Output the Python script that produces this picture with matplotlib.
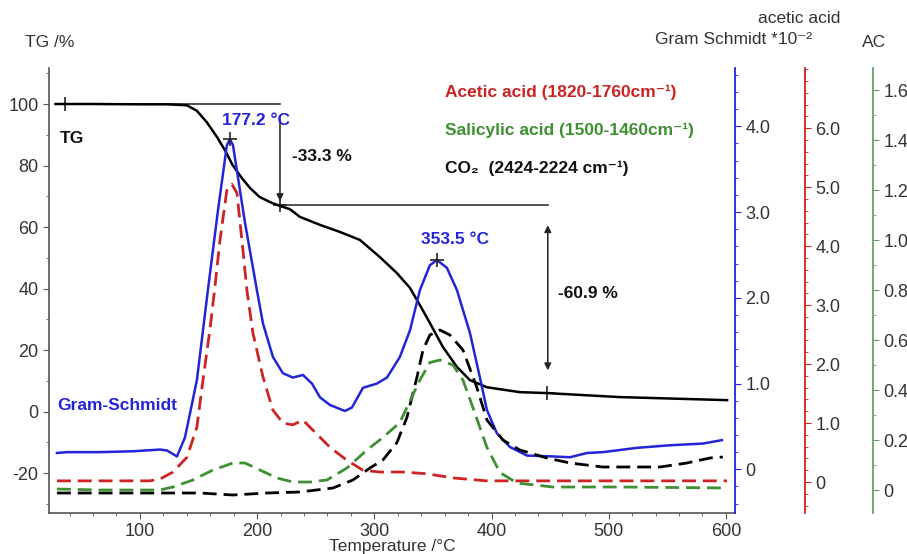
import matplotlib
matplotlib.use("Agg")
import matplotlib.pyplot as plt
from matplotlib.ticker import MultipleLocator, FuncFormatter

plt.rcParams["font.family"] = ["Liberation Sans", "DejaVu Sans"]
plt.rcParams["axes.unicode_minus"] = False

# ---- data ----
# TG mass curve (%)
tg_T = [28, 60, 100, 123, 140, 148.6, 157, 165.7, 172.5, 179, 187, 193.9, 202,
        211, 217.7, 228, 236.5, 253.6, 270.6, 287.7, 304.8, 319.3, 330.4, 338.9,
        347.4, 358.5, 370.5, 381.6, 396, 424, 447, 509, 601]
tg_val = [100, 100, 99.9, 99.9, 99.6, 97.8, 94.1, 89.3, 85.0, 80.2, 75.9, 72.7, 69.8,
          68.1, 67.1, 65.8, 63.3, 60.7, 58.4, 55.8, 50.2, 45.0, 40.2, 34.6,
          28.8, 21.0, 14.5, 10.2, 7.9, 6.3, 6.0, 4.7, 3.7]

# Gram-Schmidt (*10^-2)
gs_T = [29.2, 37.7, 65.9, 94.0, 117.1, 123.0, 131.6, 138.4, 142.7, 148.6, 153.8,
        158.0, 166.6, 174.2, 176.8, 179.4, 189.6, 199.8, 205.0, 213.5, 222.0,
        230.5, 239.1, 246.8, 253.6, 262.1, 274.9, 280.9, 290.3, 302.2, 310.8,
        321.8, 330.4, 338.9, 347.4, 353.4, 361.9, 370.5, 381.6, 390.1, 396.1,
        404.6, 415.7, 430.2, 452.4, 466.9, 481.4, 495.1, 524.1, 552.2, 580.4, 596.6]
gs_val = [0.19, 0.20, 0.20, 0.21, 0.23, 0.22, 0.15, 0.37, 0.65, 1.04, 1.62,
          2.09, 3.02, 3.78, 3.85, 3.78, 2.88, 2.09, 1.70, 1.31, 1.12,
          1.07, 1.10, 1.00, 0.84, 0.75, 0.68, 0.72, 0.95, 1.00, 1.07,
          1.31, 1.62, 2.09, 2.38, 2.44, 2.35, 2.09, 1.59, 1.07, 0.69,
          0.42, 0.26, 0.16, 0.15, 0.14, 0.19, 0.20, 0.25, 0.28, 0.30, 0.34]

# acetic acid (1820-1760 cm-1)
aa_T = [29.2, 65.9, 108.5, 117.1, 128.2, 140.1, 148.6, 153.8, 159.7, 164.0,
        168.3, 174.2, 178.5, 182.8, 187.9, 191.3, 196.4, 205.0, 213.5, 222.0,
        230.5, 239.1, 247.6, 262.1, 276.6, 290.3, 304.8, 324.4, 344.9, 367.1,
        396.1, 492.5, 600.9]
aa_val = [0.02, 0.02, 0.02, 0.05, 0.17, 0.42, 0.93, 1.73, 2.58, 3.31,
          4.10, 4.95, 5.05, 4.90, 3.93, 3.25, 2.53, 1.78, 1.22, 1.00,
          0.97, 1.05, 0.88, 0.59, 0.37, 0.20, 0.17, 0.17, 0.14, 0.07,
          0.02, 0.02, 0.02]

# salicylic acid (1500-1460 cm-1), AC
sa_T = [29.2, 65.9, 117.1, 128.2, 145.2, 162.3, 179.4, 189.6, 202.4, 216.9,
        230.5, 245.1, 259.6, 276.6, 293.7, 307.3, 321.8, 327.8, 338.9, 347.4,
        356.0, 367.1, 375.6, 384.1, 396.1, 407.2, 421.7, 452.4, 509.6, 600.9]
sa_val = [0.004, 0.0, 0.0, 0.012, 0.04, 0.08, 0.108, 0.108, 0.08, 0.048,
          0.032, 0.032, 0.04, 0.088, 0.16, 0.21, 0.27, 0.33, 0.44, 0.51,
          0.52, 0.50, 0.44, 0.33, 0.17, 0.07, 0.028, 0.012, 0.012, 0.008]

# CO2 (2424-2224 cm-1), AC
co2_T = [29.2, 94.0, 151.2, 179.4, 208.4, 236.5, 264.7, 281.7, 296.2, 307.3,
         319.3, 327.8, 336.3, 341.5, 347.4, 356.0, 364.5, 375.6, 387.5, 396.1,
         409.7, 424.2, 447.3, 466.9, 495.1, 524.1, 543.7, 566.7, 586.4, 597.4]
co2_val = [-0.012, -0.012, -0.012, -0.02, -0.012, -0.008, 0.008, 0.04, 0.088, 0.12,
           0.19, 0.29, 0.45, 0.56, 0.62, 0.64, 0.62, 0.56, 0.41, 0.28,
           0.20, 0.16, 0.128, 0.108, 0.092, 0.092, 0.092, 0.108, 0.128, 0.132]

tg_marks_T = [36, 219.5, 447]
tg_marks_val = [100, 67, 6]
peak_T = [177.2, 353.5]
peak_gs = [3.85, 2.44]

blue = "#2424d8"
red = "#cc2424"
green = "#3f8f33"
green_ax = "#6a9e6a"
tick_col = "#333333"

fig = plt.figure(figsize=(9.07, 5.54), dpi=100)
ax = fig.add_axes([0.054, 0.074, 0.7563, 0.8032])
ax_gs = ax.twinx()
ax_aa = ax.twinx()
ax_ac = ax.twinx()

# main TG axis
ax.set_xlim(22.4, 607.7)
ax.set_ylim(-33, 111.7)
for s in ["top", "right"]:
    ax.spines[s].set_visible(False)
for s in ["left", "bottom"]:
    ax.spines[s].set_color("#555555")
    ax.spines[s].set_linewidth(1.2)
ax.xaxis.set_major_locator(MultipleLocator(100))
ax.xaxis.set_minor_locator(MultipleLocator(20))
ax.yaxis.set_major_locator(MultipleLocator(20))
ax.yaxis.set_minor_locator(MultipleLocator(10))
ax.tick_params(which="both", direction="out", colors="#555555", labelcolor=tick_col,
               labelsize=13)
ax.tick_params(which="major", length=4)
ax.tick_params(which="minor", length=2.5)
ax.set_xticks([100, 200, 300, 400, 500, 600])
ax.set_xlabel("Temperature /°C", fontsize=12.5, color=tick_col, labelpad=-1)

ax.plot(tg_T, tg_val, color="black", lw=1.8, zorder=3)
ax.plot(tg_marks_T, tg_marks_val, ls="none", marker="+", ms=10, mew=1.2, color="#222222")
ax.plot([28, 219.5], [100, 100], color="#333333", lw=1.2)
ax.plot([219.5, 448], [67, 67], color="#333333", lw=1.2)
ax.annotate("", xy=(219.5, 67.5), xytext=(219.5, 96),
            arrowprops=dict(arrowstyle="-|>", color="#222222", lw=1.1, mutation_scale=10))
ax.annotate("", xy=(448, 12.5), xytext=(448, 61.5),
            arrowprops=dict(arrowstyle="<|-|>", color="#222222", lw=1.1, mutation_scale=10))

bold = dict(fontsize=12.5, fontweight="bold", va="center")
ax.text(31.7, 88.9, "TG", color="#111111", ha="left", **bold)
ax.text(199, 94.8, "177.2 °C", color=blue, ha="center", **bold)
ax.text(229.7, 82.8, "-33.3 %", color="#111111", ha="left", **bold)
ax.text(368.8, 55.8, "353.5 °C", color=blue, ha="center", **bold)
ax.text(456.7, 38.5, "-60.9 %", color="#111111", ha="left", **bold)
ax.text(29.2, 2.1, "Gram-Schmidt", color=blue, ha="left", **bold)
ax.text(360.2, 103.9, "Acetic acid (1820-1760cm⁻¹)", color=red, ha="left", **bold)
ax.text(360.2, 91.5, "Salicylic acid (1500-1460cm⁻¹)", color=green, ha="left", **bold)
ax.text(360.2, 79.2, "CO₂  (2424-2224 cm⁻¹)", color="#111111", ha="left", **bold)


def fmt(v, pos):
    return "0" if abs(v) < 1e-9 else f"{v:.1f}"


def setup_right(a, col, lo, hi, major, minor, pos):
    a.set_ylim(lo, hi)
    for s in ["top", "left", "bottom"]:
        a.spines[s].set_visible(False)
    a.spines["right"].set_position(("axes", pos))
    a.spines["right"].set_color(col)
    a.spines["right"].set_linewidth(1.3)
    a.yaxis.set_major_locator(MultipleLocator(major))
    a.yaxis.set_minor_locator(MultipleLocator(minor))
    a.yaxis.set_major_formatter(FuncFormatter(fmt))
    a.tick_params(which="both", direction="out", colors=col, labelcolor=tick_col,
                  labelsize=13)
    a.tick_params(which="major", length=4)
    a.tick_params(which="minor", length=2.5)


setup_right(ax_gs, blue, -0.51, 4.68, 1.0, 0.2, 1.0)
setup_right(ax_aa, red, -0.525, 7.02, 1.0, 0.2, 1.102)
setup_right(ax_ac, green_ax, -0.092, 1.688, 0.2, 0.1, 1.201)
ax_aa.set_yticks([0, 1, 2, 3, 4, 5, 6])
ax_ac.set_yticks([0, 0.2, 0.4, 0.6, 0.8, 1.0, 1.2, 1.4, 1.6])

ax_ac.plot(co2_T, co2_val, color="black", lw=2, dashes=(5, 2.5))
ax_ac.plot(sa_T, sa_val, color=green, lw=2, dashes=(5, 2.5))
ax_aa.plot(aa_T, aa_val, color=red, lw=2, dashes=(5, 2.5))
ax_gs.plot(gs_T, gs_val, color=blue, lw=1.8)
ax_gs.plot(peak_T, peak_gs, ls="none", marker="+", ms=10, mew=1.2, color="#222222")

fig.text(0.0276, 0.924, "TG /%", fontsize=12.5, color=tick_col, ha="left", va="center")
fig.text(0.926, 0.9675, "acetic acid", fontsize=12.5, color=tick_col, ha="right", va="center")
fig.text(0.895, 0.928, "Gram Schmidt *10⁻²", fontsize=12.5, color=tick_col, ha="right",
         va="center")
fig.text(0.950, 0.924, "AC", fontsize=12.5, color=tick_col, ha="left", va="center")

fig.savefig("out.png", dpi=100)
